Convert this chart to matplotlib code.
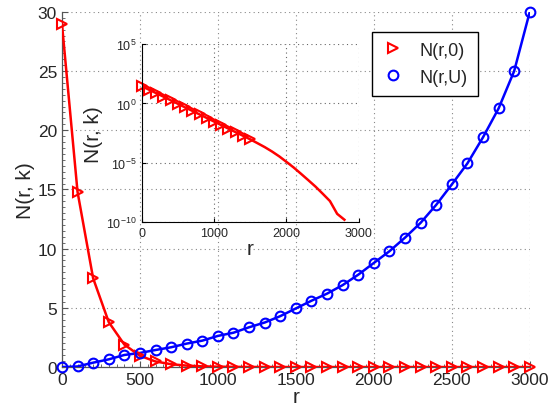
import numpy as np
import matplotlib
matplotlib.use("Agg")
import matplotlib.pyplot as plt
from matplotlib.ticker import MultipleLocator, FixedLocator, NullLocator

plt.rcParams['font.family'] = ['Liberation Sans', 'DejaVu Sans']
plt.rcParams['mathtext.fontset'] = 'custom'
plt.rcParams['mathtext.rm'] = 'Liberation Sans'

# ---- data ----
r = list(range(0, 3001, 100))
n_r0 = [29.0, 14.8, 7.5, 3.8, 1.9, 0.95, 0.47, 0.24, 0.12, 0.06,
        0.03, 0.015, 7.5e-3, 3.8e-3, 1.9e-3, 9.5e-4, 4.5e-4, 2.1e-4, 9e-5, 3.5e-5,
        1.2e-5, 4e-6, 1.2e-6, 3.5e-7, 1e-7, 2.5e-8, 6e-9, 5e-10, 1.6e-10, 0.0, 0.0]
n_rU = [0.0, 0.05, 0.37, 0.65, 1.02, 1.19, 1.44, 1.67, 1.98, 2.23,
        2.63, 2.9, 3.36, 3.76, 4.3, 4.95, 5.6, 6.2, 6.92, 7.8,
        8.79, 9.78, 10.93, 12.18, 13.7, 15.42, 17.2, 19.4, 21.84, 25.0, 30.0]
n_inset_markers = 16  # markers shown for r = 0..1500 in inset

main_xticks = [0, 500, 1000, 1500, 2000, 2500, 3000]
main_yticks = [0, 5, 10, 15, 20, 25, 30]
inset_xticks = [0, 1000, 2000, 3000]
inset_yticks = [1e-10, 1e-5, 1e0, 1e5]
inset_yticklabels = [r'$10^{-10}$', r'$10^{-5}$', r'$10^{0}$', r'$10^{5}$']

RED = '#ff0000'
BLUE = '#0000ff'
TXT = '#262626'

fig = plt.figure(figsize=(5.53, 4.14), dpi=100)
ax = fig.add_axes([0.112, 0.111, 0.846, 0.858])

ax.plot(r, n_r0, color=RED, lw=1.8, zorder=3)
ax.plot(r, n_rU, color=BLUE, lw=1.8, zorder=3)
ax.plot(r, n_r0, ls='none', marker='>', ms=7, mfc='none', mec=RED, mew=1.5,
        label='N(r,0)', zorder=4, clip_on=False)
ax.plot(r, n_rU, ls='none', marker='o', ms=7, mfc='none', mec=BLUE, mew=1.5,
        label='N(r,U)', zorder=4, clip_on=False)

ax.set_xlim(0, 3000)
ax.set_ylim(0, 30)
ax.set_xticks(main_xticks)
ax.set_yticks(main_yticks)
ax.xaxis.set_minor_locator(MultipleLocator(50))
ax.yaxis.set_minor_locator(MultipleLocator(0.5))
ax.tick_params(which='both', direction='in', colors='#555555', labelcolor=TXT,
               labelsize=12.5, top=False, right=False)
ax.tick_params(which='major', length=4, width=0.8)
ax.tick_params(which='minor', length=2, width=0.6)
ax.grid(True, which='major', ls=(0, (1, 3)), color='#888888', lw=0.8)
for s in ['top', 'right']:
    ax.spines[s].set_visible(False)
for s in ['left', 'bottom']:
    ax.spines[s].set_color('#555555')
    ax.spines[s].set_linewidth(0.9)
ax.set_xlabel('r', fontsize=15, color=TXT, labelpad=0)
ax.set_ylabel('N(r, k)', fontsize=15, color=TXT, labelpad=2)

leg = ax.legend(loc='upper right', bbox_to_anchor=(0.908, 0.969), fontsize=13,
                fancybox=False, framealpha=1, edgecolor='black',
                handletextpad=0.8, borderpad=0.55, labelspacing=0.55,
                handlelength=1.3)
leg.get_frame().set_linewidth(1.0)
for t in leg.get_texts():
    t.set_color(TXT)

# ---- inset ----
ins = fig.add_axes([0.256, 0.461, 0.393, 0.430])
ins.patch.set_alpha(0)
r_arr = np.array(r, dtype=float)
v_arr = np.array(n_r0, dtype=float)
v_plot = np.where(v_arr > 0, v_arr, np.nan)
ins.plot(r_arr, v_plot, color=RED, lw=1.8)
ins.plot(r_arr[:n_inset_markers], v_arr[:n_inset_markers], ls='none', marker='>',
         ms=7, mfc='none', mec=RED, mew=1.5, clip_on=False)
ins.set_yscale('log')
ins.set_xlim(0, 3000)
ins.set_ylim(1e-10, 1e5)
ins.set_xticks(inset_xticks)
ins.yaxis.set_major_locator(FixedLocator(inset_yticks))
ins.set_yticklabels(inset_yticklabels)
ins.yaxis.set_minor_locator(NullLocator())
ins.tick_params(which='both', direction='in', labelsize=9, colors='black',
                labelcolor=TXT, length=3, top=False, right=False)
ins.grid(True, which='major', ls=(0, (1, 3)), color='#666666', lw=0.8)
for s in ['top', 'right']:
    ins.spines[s].set_visible(False)
ins.set_xlabel('r', fontsize=15, color=TXT, labelpad=0)
ins.set_ylabel('N(r, k)', fontsize=15, color=TXT, labelpad=2)

fig.savefig('out.png', dpi=100)
